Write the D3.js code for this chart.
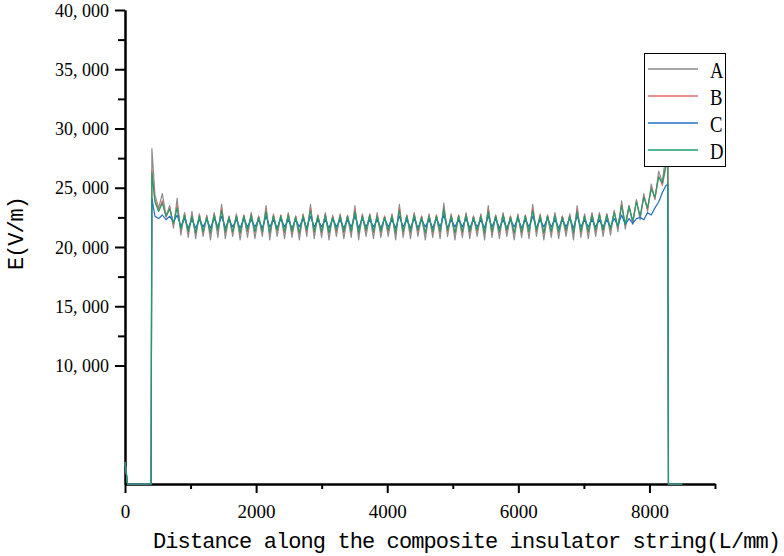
<!DOCTYPE html>
<html lang="en">
<head>
<meta charset="UTF-8">
<title>E along composite insulator string</title>
<script src="https://cdn.jsdelivr.net/npm/d3@7"></script>
<style>
  body { margin: 0; background: #fff; }
  .axis path, .axis line { stroke: #000; stroke-width: 2; }
  .tick text { font-family: "Liberation Serif", serif; fill: #000; }
  .series { fill: none; stroke-width: 1.2; stroke-linejoin: round; }
</style>
</head>
<body>
<svg width="784" height="556"></svg>
<script>
// distance along the string (mm)
var distance = [0, 40, 398,
  410, 456.5, 513, 569.5, 626, 682.5, 739, 795.5, 852, 908.5, 965, 1021.5,
  1078, 1134.5, 1191, 1247.5, 1304, 1360.5, 1417, 1473.5, 1530, 1586.5, 1643, 1699.5,
  1756, 1812.5, 1869, 1925.5, 1982, 2038.5, 2095, 2151.5, 2208, 2264.5, 2321, 2377.5,
  2434, 2490.5, 2547, 2603.5, 2660, 2716.5, 2773, 2829.5, 2886, 2942.5, 2999, 3055.5,
  3112, 3168.5, 3225, 3281.5, 3338, 3394.5, 3451, 3507.5, 3564, 3620.5, 3677, 3733.5,
  3790, 3846.5, 3903, 3959.5, 4016, 4072.5, 4129, 4185.5, 4242, 4298.5, 4355, 4411.5,
  4468, 4524.5, 4581, 4637.5, 4694, 4750.5, 4807, 4863.5, 4920, 4976.5, 5033, 5089.5,
  5146, 5202.5, 5259, 5315.5, 5372, 5428.5, 5485, 5541.5, 5598, 5654.5, 5711, 5767.5,
  5824, 5880.5, 5937, 5993.5, 6050, 6106.5, 6163, 6219.5, 6276, 6332.5, 6389, 6445.5,
  6502, 6558.5, 6615, 6671.5, 6728, 6784.5, 6841, 6897.5, 6954, 7010.5, 7067, 7123.5,
  7180, 7236.5, 7293, 7349.5, 7406, 7462.5, 7519, 7575.5, 7632, 7688.5, 7745, 7801.5,
  7858, 7914.5, 7971, 8027.5, 8084, 8140.5, 8197, 8253.5,
  8280, 8290, 8500];

var seriesA = [1850, 0, 0,
  28300, 24400, 23300, 24500, 22600, 23500, 21600, 24100, 21000, 22900, 20800, 23000,
  20700, 22800, 20900, 22700, 20600, 22900, 20800, 23600, 20700, 22600, 20900, 22800,
  20600, 22700, 20800, 22900, 20700, 22600, 20900, 23500, 20600, 22800, 20900, 22700,
  20700, 22900, 20800, 22600, 20600, 22800, 20900, 23600, 20700, 22700, 20800, 22900,
  20600, 22700, 20900, 22800, 20700, 22600, 20800, 23500, 20600, 22800, 20900, 22700,
  20700, 22900, 20800, 22600, 20900, 22800, 20600, 23600, 20800, 22700, 20700, 22900,
  20900, 22600, 20600, 22800, 20800, 22700, 20700, 23700, 20900, 22800, 20600, 22700,
  20800, 22900, 20700, 22600, 20900, 22800, 20600, 23500, 20800, 22700, 20700, 22900,
  20900, 22600, 20600, 22800, 20800, 22700, 20700, 23600, 20900, 22800, 20600, 22700,
  20800, 22900, 20700, 22600, 20900, 22800, 20600, 23500, 20800, 22800, 20700, 22900,
  20900, 22900, 20900, 22800, 21000, 23100, 21300, 23900, 21500, 23500, 21900, 24000,
  22300, 24500, 23000, 25300, 24000, 26400, 25500, 28000,
  28900, 0, 0];

var seriesB = [1850, 0, 0,
  26500, 24000, 23100, 23900, 22500, 23300, 21900, 23500, 21400, 22800, 21200, 22700,
  21100, 22700, 21200, 22600, 21100, 22800, 21300, 23300, 21200, 22600, 21200, 22700,
  21100, 22700, 21300, 22800, 21200, 22600, 21200, 23200, 21100, 22700, 21300, 22700,
  21200, 22800, 21200, 22600, 21100, 22700, 21300, 23300, 21200, 22700, 21200, 22800,
  21100, 22600, 21300, 22700, 21200, 22700, 21200, 23200, 21100, 22700, 21300, 22800,
  21200, 22700, 21200, 22600, 21300, 22700, 21100, 23300, 21200, 22700, 21200, 22800,
  21300, 22600, 21100, 22700, 21200, 22700, 21200, 23300, 21300, 22700, 21100, 22700,
  21200, 22800, 21200, 22600, 21300, 22700, 21100, 23200, 21200, 22700, 21200, 22800,
  21300, 22600, 21100, 22700, 21200, 22700, 21200, 23300, 21300, 22700, 21100, 22700,
  21200, 22800, 21200, 22600, 21300, 22700, 21100, 23200, 21200, 22700, 21200, 22800,
  21300, 22800, 21300, 22800, 21400, 23000, 21600, 23600, 21800, 23500, 22100, 23900,
  22500, 24300, 23200, 25000, 24100, 26000, 25200, 26800,
  27500, 0, 0];

var seriesC = [1850, 0, 0,
  24100, 22600, 22400, 22700, 22300, 22600, 22100, 22700, 21700, 22400, 21600, 22300,
  21600, 22300, 21700, 22300, 21600, 22400, 21700, 22600, 21600, 22300, 21700, 22300,
  21600, 22400, 21700, 22300, 21700, 22300, 21600, 22600, 21700, 22300, 21600, 22400,
  21700, 22300, 21600, 22300, 21700, 22400, 21600, 22600, 21700, 22300, 21700, 22300,
  21600, 22400, 21700, 22300, 21600, 22300, 21700, 22600, 21600, 22400, 21700, 22300,
  21700, 22300, 21600, 22400, 21700, 22300, 21600, 22600, 21700, 22300, 21600, 22400,
  21600, 22300, 21700, 22300, 21600, 22400, 21700, 22700, 21600, 22300, 21700, 22300,
  21700, 22400, 21600, 22300, 21700, 22300, 21600, 22600, 21700, 22400, 21600, 22300,
  21600, 22300, 21700, 22400, 21600, 22300, 21700, 22600, 21600, 22300, 21700, 22400,
  21700, 22300, 21600, 22300, 21700, 22400, 21600, 22600, 21700, 22300, 21700, 22300,
  21700, 22300, 21700, 22300, 21700, 22400, 21800, 22700, 21900, 22400, 22000, 22400,
  22500, 22300, 22900, 22700, 23300, 23800, 24600, 25200,
  25300, 0, 0];

var seriesD = [1850, 0, 0,
  26300, 23800, 23000, 23700, 22600, 23200, 22000, 23300, 21500, 22700, 21300, 22600,
  21200, 22600, 21300, 22500, 21200, 22700, 21400, 23100, 21300, 22500, 21300, 22600,
  21200, 22600, 21400, 22700, 21300, 22500, 21300, 23000, 21200, 22600, 21400, 22600,
  21300, 22700, 21300, 22500, 21200, 22600, 21400, 23100, 21300, 22600, 21300, 22700,
  21200, 22500, 21400, 22600, 21300, 22600, 21300, 23000, 21200, 22600, 21400, 22700,
  21300, 22600, 21300, 22500, 21400, 22600, 21200, 23100, 21300, 22600, 21300, 22700,
  21400, 22500, 21200, 22600, 21300, 22600, 21300, 23200, 21400, 22600, 21200, 22600,
  21300, 22700, 21300, 22500, 21400, 22600, 21200, 23000, 21300, 22600, 21300, 22700,
  21400, 22500, 21200, 22600, 21300, 22600, 21300, 23100, 21400, 22600, 21200, 22600,
  21300, 22700, 21300, 22500, 21400, 22600, 21200, 23000, 21300, 22600, 21300, 22700,
  21400, 22700, 21400, 22700, 21500, 22900, 21700, 23500, 21900, 23400, 22200, 23800,
  22600, 24200, 23300, 24900, 24200, 25900, 25400, 27000,
  27800, 0, 0];

var seriesNames = ["A", "B", "C", "D"];
var seriesColors = ["#8c8c8c", "#e66a6a", "#1f6fc8", "#1f9e6c"];

var xMajorTicks = [0, 2000, 4000, 6000, 8000];
var xMinorTicks = [1000, 3000, 5000, 7000, 9000];
var yMajorTicks = [10000, 15000, 20000, 25000, 30000, 35000, 40000];
var yTickLabels = ["10, 000", "15, 000", "20, 000", "25, 000", "30, 000", "35, 000", "40, 000"];
var yMinorTicks = [12500, 17500, 22500, 27500, 32500, 37500];

var svg = d3.select("svg");

var x = d3.scaleLinear().domain([0, 9000]).range([125, 715]);
var y = d3.scaleLinear().domain([0, 40000]).range([484, 10]);

// x axis
svg.append("g")
    .attr("class", "axis")
    .attr("transform", "translate(0,484)")
    .call(d3.axisBottom(x).tickValues(xMinorTicks).tickSize(5).tickSizeOuter(0).tickFormat(""));
var xAxis = svg.append("g")
    .attr("class", "axis")
    .attr("transform", "translate(0,484)")
    .call(d3.axisBottom(x).tickValues(xMajorTicks).tickSize(9).tickSizeOuter(0).tickFormat(d3.format("d")));
xAxis.selectAll(".tick text")
    .attr("font-size", 19)
    .attr("dy", null)
    .attr("y", 34);

// y axis
svg.append("g")
    .attr("class", "axis")
    .attr("transform", "translate(125,0)")
    .call(d3.axisLeft(y).tickValues(yMinorTicks).tickSize(7).tickSizeOuter(0).tickFormat(""));
var yAxis = svg.append("g")
    .attr("class", "axis")
    .attr("transform", "translate(125,0)")
    .call(d3.axisLeft(y).tickValues(yMajorTicks).tickSize(10).tickSizeOuter(0)
        .tickFormat(function(d, i) { return yTickLabels[i]; }));
yAxis.selectAll(".tick text")
    .attr("font-size", 18)
    .attr("x", -16)
    .attr("dy", "0.34em");

// series lines, drawn over the axes
var allSeries = [seriesA, seriesB, seriesC, seriesD];
var line = d3.line()
    .x(function(d, i) { return x(distance[i]); })
    .y(function(d) { return y(d); });

svg.append("g").selectAll("path")
    .data(allSeries)
    .enter().append("path")
    .attr("class", "series")
    .attr("stroke", function(d, i) { return seriesColors[i]; })
    .attr("d", line);

// axis titles
svg.append("text")
    .attr("x", 153)
    .attr("y", 548)
    .attr("font-family", "Liberation Mono, monospace")
    .attr("font-size", 22)
    .attr("textLength", 628)
    .attr("lengthAdjust", "spacing")
    .text("Distance along the composite insulator string(L/mm)");

svg.append("text")
    .attr("transform", "translate(23,233) rotate(-90)")
    .attr("text-anchor", "middle")
    .attr("font-family", "Liberation Mono, monospace")
    .attr("font-size", 22)
    .attr("textLength", 74)
    .attr("lengthAdjust", "spacing")
    .text("E(V/m)");

// legend
var legend = svg.append("g");
legend.append("rect")
    .attr("x", 644.5).attr("y", 53.5)
    .attr("width", 81).attr("height", 113)
    .attr("fill", "#fff").attr("stroke", "#000").attr("stroke-width", 1);
var items = legend.selectAll(".item")
    .data(seriesNames)
    .enter().append("g")
    .attr("transform", function(d, i) { return "translate(0," + (69 + i * 27) + ")"; });
items.append("line")
    .attr("x1", 648).attr("x2", 698)
    .attr("stroke", function(d, i) { return seriesColors[i]; })
    .attr("stroke-width", 1.3);
items.append("text")
    .attr("transform", "translate(710,9) scale(0.78,1)")
    .attr("font-family", "Liberation Serif, serif")
    .attr("font-size", 24)
    .text(function(d) { return d; });
</script>
</body>
</html>
